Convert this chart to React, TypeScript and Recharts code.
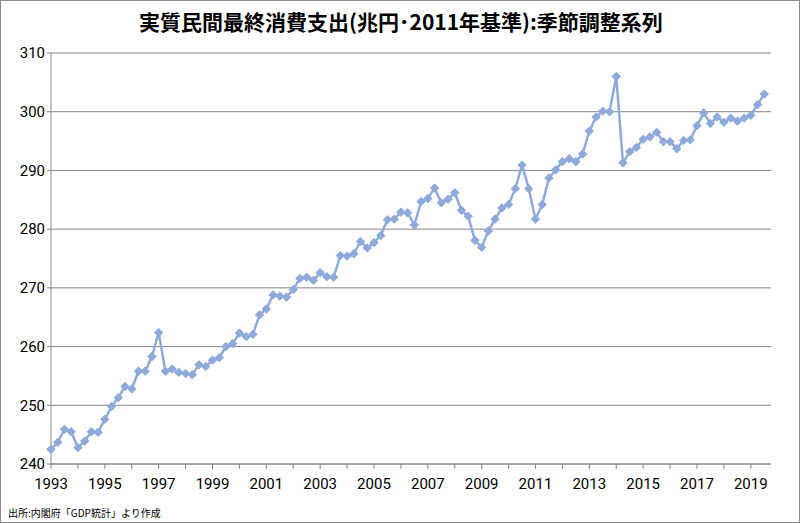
import { LineChart, Line, XAxis, YAxis, CartesianGrid } from 'recharts'

// 実質民間最終消費支出（兆円・2011年基準）, quarterly, 1993Q1 - 2019Q3
const firstYear = 1993
const consumption = [
  242.5, 243.7, 245.9, 245.5,
  242.8, 243.9, 245.5, 245.4,
  247.6, 249.8, 251.3, 253.2,
  252.8, 255.8, 255.8, 258.3,
  262.4, 255.8, 256.2, 255.6,
  255.4, 255.2, 256.9, 256.6,
  257.7, 258.1, 260.0, 260.5,
  262.3, 261.7, 262.1, 265.4,
  266.4, 268.8, 268.6, 268.4,
  269.7, 271.6, 271.8, 271.3,
  272.6, 271.9, 271.8, 275.5,
  275.4, 275.8, 277.9, 276.8,
  277.7, 278.9, 281.6, 281.7,
  282.9, 282.8, 280.7, 284.7,
  285.2, 287.0, 284.5, 285.1,
  286.2, 283.2, 282.2, 278.1,
  276.9, 279.7, 281.7, 283.6,
  284.2, 286.9, 290.9, 286.9,
  281.7, 284.2, 288.7, 290.1,
  291.5, 292.0, 291.5, 292.8,
  296.7, 299.1, 300.1, 300.0,
  306.0, 291.3, 293.2, 293.9,
  295.3, 295.7, 296.5, 294.9,
  294.9, 293.7, 295.1, 295.2,
  297.6, 299.8, 298.0, 299.1,
  298.2, 298.9, 298.4, 298.9,
  299.4, 301.2, 303.0,
]
const yTicks = [240, 250, 260, 270, 280, 290, 300, 310]
const yearTicks = Array.from({ length: 27 }, (_, k) => k * 4)

const data = consumption.map((v, i) => ({
  i,
  label: `${firstYear + Math.floor(i / 4)}Q${(i % 4) + 1}`,
  value: v,
}))

const LINE = '#8eaadb'
const AXIS = '#868686'
const numFont = 'Roboto, "Liberation Sans", sans-serif'
const jpFont = '"Noto Sans CJK JP", sans-serif'

const Diamond = (props: any) => {
  const { cx, cy } = props
  if (cx == null || cy == null) return null
  const r = 4.2
  return (
    <polygon
      points={`${cx},${cy - r} ${cx + r},${cy} ${cx},${cy + r} ${cx - r},${cy}`}
      fill={LINE}
      stroke={LINE}
      strokeWidth={1}
    />
  )
}

export default function App() {
  return (
    <div
      style={{
        position: 'absolute',
        top: 0,
        left: 0,
        width: 800,
        height: 523,
        background: '#fff',
        border: '1px solid #8c8c8c',
        boxSizing: 'border-box',
        overflow: 'hidden',
      }}
    >
      <div
        style={{
          position: 'absolute',
          top: 6,
          left: 0,
          width: 800,
          textAlign: 'center',
          fontFamily: jpFont,
          fontWeight: 700,
          fontSize: 21,
          lineHeight: '28px',
          color: '#000',
        }}
      >
        実質民間最終消費支出(兆円･2011年基準):季節調整系列
      </div>
      <div style={{ position: 'absolute', top: 0, left: -1 }}>
        <LineChart
          width={800}
          height={523}
          data={data}
          margin={{ top: 52, right: 29, left: 11, bottom: 30 }}
        >
          <CartesianGrid vertical={false} stroke={AXIS} strokeWidth={1} />
          <XAxis
            dataKey="i"
            type="number"
            domain={[0, 107]}
            ticks={yearTicks}
            interval={0}
            tickFormatter={(v: number) => (v % 8 === 0 ? String(firstYear + v / 4) : '')}
            height={30}
            stroke={AXIS}
            tickSize={5}
            tickMargin={9}
            tick={{ fill: '#000', fontSize: 15, fontFamily: numFont }}
          />
          <YAxis
            type="number"
            domain={[240, 310]}
            ticks={yTicks}
            interval={0}
            width={40}
            stroke={AXIS}
            tickSize={4}
            tickMargin={2}
            tick={{ fill: '#000', fontSize: 15, fontFamily: numFont }}
          />
          <Line
            type="linear"
            dataKey="value"
            stroke={LINE}
            strokeWidth={2.5}
            dot={<Diamond />}
            activeDot={false}
            isAnimationActive={false}
          />
        </LineChart>
      </div>
      <div
        style={{
          position: 'absolute',
          left: 7,
          top: 506,
          fontFamily: jpFont,
          fontSize: 10,
          lineHeight: '12px',
          color: '#000',
        }}
      >
        出所:内閣府「GDP統計」より作成
      </div>
    </div>
  )
}
